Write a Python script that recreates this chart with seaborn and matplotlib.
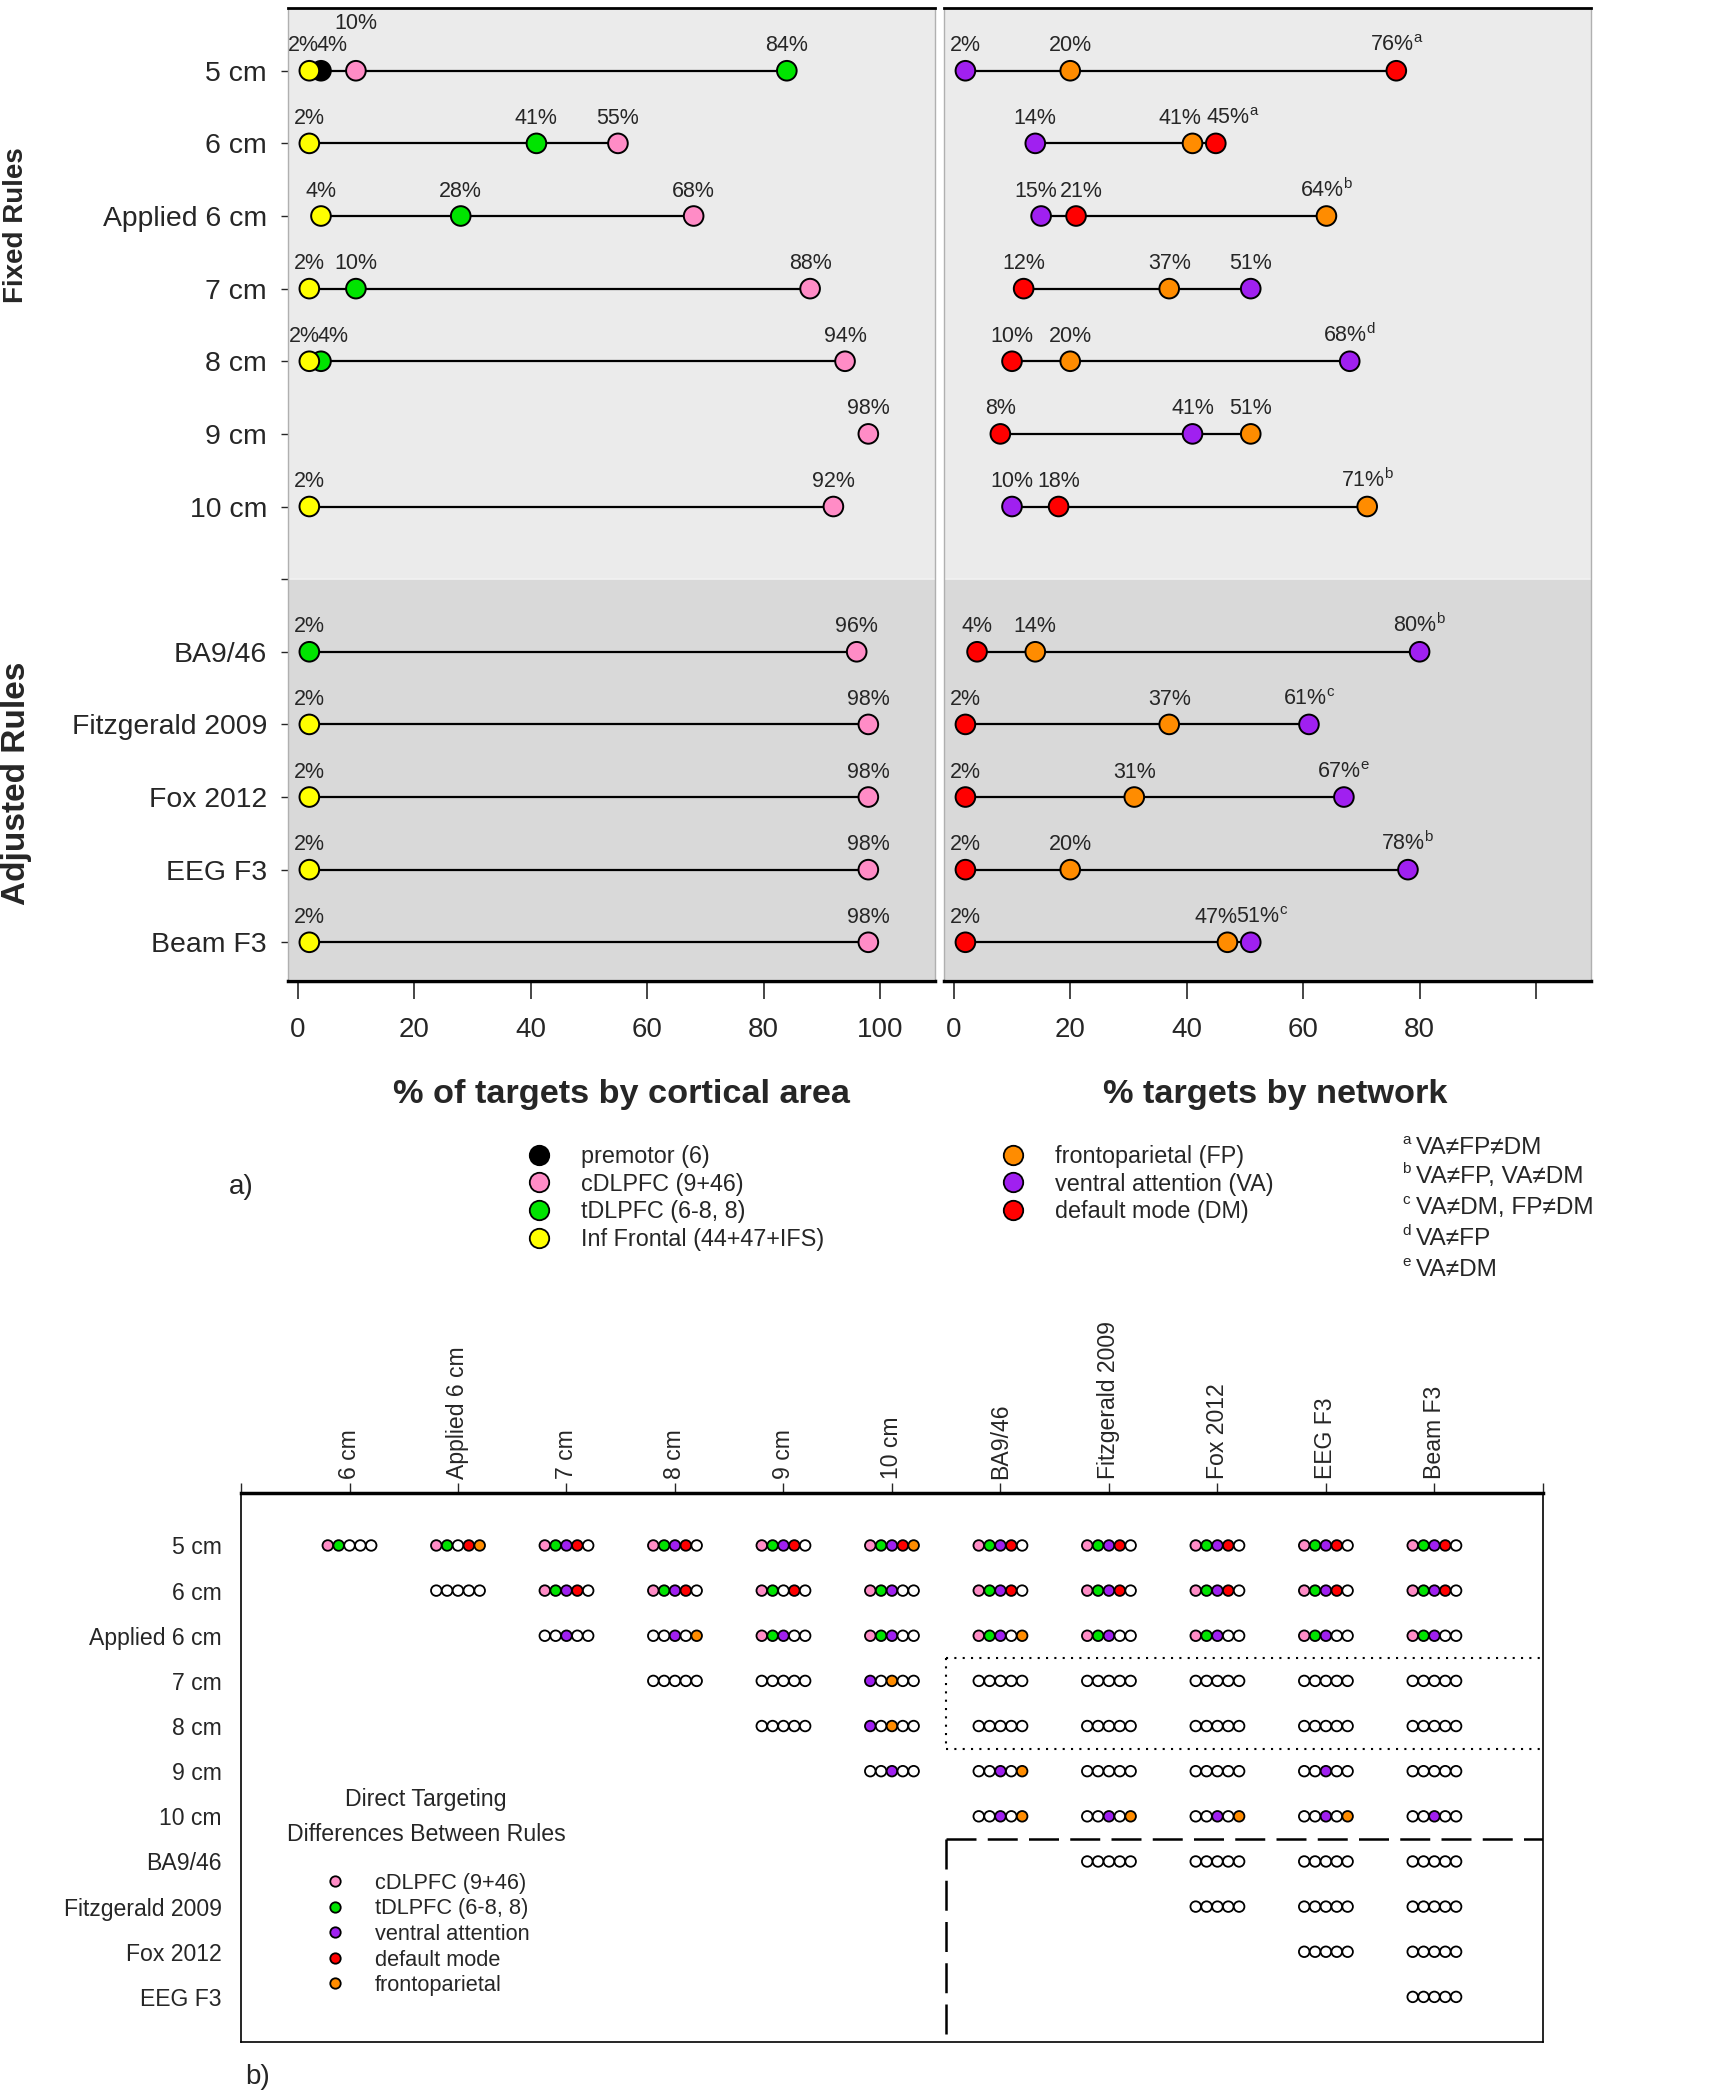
import numpy as np
import pandas as pd
import matplotlib
matplotlib.use("Agg")
import matplotlib.pyplot as plt
from matplotlib.lines import Line2D
import seaborn as sns

sns.set_style("white")
plt.rcParams["font.family"] = ["Liberation Sans", "DejaVu Sans"]
plt.rcParams["mathtext.fontset"] = "custom"
plt.rcParams["mathtext.rm"] = "Liberation Sans"
plt.rcParams["mathtext.it"] = "Liberation Sans"

nan = np.nan

# targeting rules (rows of panel a, rows/columns of panel b)
rules = ["5 cm", "6 cm", "Applied 6 cm", "7 cm", "8 cm", "9 cm", "10 cm",
         "BA9/46", "Fitzgerald 2009", "Fox 2012", "EEG F3", "Beam F3"]
n_fixed = 7

# % of targets by cortical area
premotor = [4, nan, nan, nan, nan, nan, nan, nan, nan, nan, nan, nan]
cdlpfc = [10, 55, 68, 88, 94, 98, 92, 96, 98, 98, 98, 98]
tdlpfc = [84, 41, 28, 10, 4, nan, nan, 2, nan, nan, nan, nan]
inf_frontal = [2, 2, 4, 2, 2, nan, 2, nan, 2, 2, 2, 2]

# % targets by network
frontoparietal = [20, 41, 64, 37, 20, 51, 71, 14, 37, 31, 20, 47]
ventral_attention = [2, 14, 15, 51, 68, 41, 10, 80, 61, 67, 78, 51]
default_mode = [76, 45, 21, 12, 10, 8, 18, 4, 2, 2, 2, 2]
network_sig = ["a", "a", "b", "", "d", "", "b", "b", "c", "e", "b", "c"]

footnote_keys = ["a", "b", "c", "d", "e"]
footnote_text = ["VA≠FP≠DM", "VA≠FP, VA≠DM", "VA≠DM, FP≠DM", "VA≠FP", "VA≠DM"]

# panel b: pairwise differences, one list per row rule (columns = later rules)
# slots: cDLPFC, tDLPFC, ventral attention, default mode, frontoparietal; '.' = same
diff_5cm = ["pg...", "pg.ro", "pgvr.", "pgvr.", "pgvr.", "pgvro", "pgvr.", "pgvr.", "pgvr.", "pgvr.", "pgvr."]
diff_6cm = [".....", "pgvr.", "pgvr.", "pg.r.", "pgv..", "pgvr.", "pgvr.", "pgvr.", "pgvr.", "pgvr."]
diff_applied = ["..v..", "..v.o", "pgv..", "pgv..", "pgv.o", "pgv..", "pgv..", "pgv..", "pgv.."]
diff_7cm = [".....", ".....", "v.o..", ".....", ".....", ".....", ".....", "....."]
diff_8cm = [".....", "v.o..", ".....", ".....", ".....", ".....", "....."]
diff_9cm = ["..v..", "..v.o", ".....", ".....", "..v..", "....."]
diff_10cm = ["..v.o", "..v.o", "..v.o", "..v.o", "..v.."]
diff_ba946 = [".....", ".....", ".....", "....."]
diff_fitz = [".....", ".....", "....."]
diff_fox = [".....", "....."]
diff_eeg = ["....."]
diff_rows = [diff_5cm, diff_6cm, diff_applied, diff_7cm, diff_8cm, diff_9cm,
             diff_10cm, diff_ba946, diff_fitz, diff_fox, diff_eeg]

PINK, GREEN, YELLOW = "#FF8CC6", "#00E400", "#FFFF00"
ORANGE, PURPLE, RED = "#FF8C00", "#A020F0", "#FF0000"

area_colors = {"premotor (6)": "black", "cDLPFC (9+46)": PINK,
               "tDLPFC (6-8, 8)": GREEN, "Inf Frontal (44+47+IFS)": YELLOW}
net_colors = {"frontoparietal (FP)": ORANGE, "ventral attention (VA)": PURPLE,
              "default mode (DM)": RED}
slot_colors = {"p": PINK, "g": GREEN, "v": PURPLE, "r": RED, "o": ORANGE, ".": "white"}
pair_legend = {"cDLPFC (9+46)": PINK, "tDLPFC (6-8, 8)": GREEN,
               "ventral attention": PURPLE, "default mode": RED, "frontoparietal": ORANGE}

# label nudges in points (dx, extra dy) where labels would collide
area_nudge = {("5 cm", 2): (-4.5, 0), ("5 cm", 4): (8, 0), ("5 cm", 10): (0, 16),
              ("8 cm", 2): (-3.6, 0), ("8 cm", 4): (9, 0)}
net_nudge = {("6 cm", 41): (-9, 0), ("6 cm", 45): (12, 0),
             ("Applied 6 cm", 15): (-4, 0), ("Applied 6 cm", 21): (4, 0),
             ("Beam F3", 47): (-8.5, 0), ("Beam F3", 51): (8.5, 0)}

ypos = [i if i < n_fixed else i + 1 for i in range(len(rules))]

fig = plt.figure(figsize=(17.13, 21.0), dpi=100)
ax_area = fig.add_axes([0.168, 0.534, 0.378, 0.4624])
ax_net = fig.add_axes([0.551, 0.534, 0.378, 0.4624])
ax_pair = fig.add_axes([0.1407, 0.0276, 0.760, 0.2614])


def dumbbell(ax, series, colors, sups, nudges):
    rows = []
    for name, vals in series.items():
        for i, v in enumerate(vals):
            if not np.isnan(v):
                rows.append({"rule": rules[i], "y": ypos[i], "value": float(v), "group": name})
    df = pd.DataFrame(rows)
    span = df.groupby("y")["value"].agg(["min", "max"])
    ax.hlines(span.index, span["min"], span["max"], color="black", lw=1.6, zorder=2)
    sns.scatterplot(data=df, x="value", y="y", hue="group", palette=colors, s=200,
                    edgecolor="black", linewidth=1.4, legend=False, zorder=3, ax=ax)
    for _, r in df.iterrows():
        i = rules.index(r["rule"])
        txt = f"{r['value']:.0f}%"
        if sups is not None and sups[i] and r["value"] == span.loc[r["y"], "max"]:
            txt += "$^{\\mathrm{" + sups[i] + "}}$"
        dx, dy = nudges.get((r["rule"], int(r["value"])), (0, 0))
        ax.annotate(txt, (r["value"], r["y"]), xytext=(dx, 14 + dy),
                    textcoords="offset points", ha="center", va="baseline",
                    fontsize=15.5, zorder=4)


dumbbell(ax_area, {"premotor (6)": premotor, "cDLPFC (9+46)": cdlpfc,
                   "tDLPFC (6-8, 8)": tdlpfc, "Inf Frontal (44+47+IFS)": inf_frontal},
         area_colors, None, area_nudge)
dumbbell(ax_net, {"frontoparietal (FP)": frontoparietal,
                  "ventral attention (VA)": ventral_attention,
                  "default mode (DM)": default_mode},
         net_colors, network_sig, net_nudge)

for ax in (ax_area, ax_net):
    ax.axhspan(-0.87, n_fixed, color="#EBEBEB", zorder=0)
    ax.axhspan(n_fixed, 12.5, color="#D9D9D9", zorder=0)
    ax.axhline(n_fixed, color="#F2F2F2", lw=1.2, zorder=1)
    ax.set_xlim(-1.7, 109.5)
    ax.set_ylim(12.5, -0.87)
    ax.set_xticks([0, 20, 40, 60, 80, 100])
    ax.tick_params(axis="x", bottom=True, direction="out", length=13, width=1.2,
                   pad=13, labelsize=20)
    ax.set_xlabel("")
    ax.set_ylabel("")
    for s in ("left", "right"):
        ax.spines[s].set_color("#B0B0B0")
        ax.spines[s].set_linewidth(1)
    ax.spines["top"].set_color("black")
    ax.spines["top"].set_linewidth(2)
    ax.spines["bottom"].set_color("black")
    ax.spines["bottom"].set_linewidth(2.5)
    ax.spines["bottom"].set_position(("outward", 2))

ax_net.set_xticklabels(["0", "20", "40", "60", "80", ""])
ax_net.tick_params(axis="y", left=False, labelleft=False)
ax_area.set_yticks(range(len(rules) + 1))
ax_area.set_yticklabels(rules[:n_fixed] + [""] + rules[n_fixed:])
ax_area.tick_params(axis="y", left=True, direction="out", length=5, width=1,
                    pad=10, labelsize=20.4)

fig.text(0.3627, 0.479, "% of targets by cortical area", ha="center", va="center",
         fontsize=24.7, fontweight="bold")
fig.text(0.7443, 0.479, "% targets by network", ha="center", va="center",
         fontsize=24.7, fontweight="bold")
fig.text(0.0094, 0.893, "Fixed Rules", rotation=90, ha="center", va="center",
         fontsize=20, fontweight="bold")
fig.text(0.0094, 0.627, "Adjusted Rules", rotation=90, ha="center", va="center",
         fontsize=24, fontweight="bold")
fig.text(0.1407, 0.4348, "a)", ha="center", va="center", fontsize=20)
fig.text(0.1506, 0.011, "b)", ha="center", va="center", fontsize=20)


def dot_handles(colors, ms):
    return [Line2D([], [], marker="o", ls="", markerfacecolor=c, markeredgecolor="black",
                   markeredgewidth=1.3, markersize=ms) for c in colors.values()]


leg_kw = dict(frameon=False, borderpad=0, borderaxespad=0, handlelength=1,
              labelspacing=0.2, handletextpad=1.3, loc="upper left")
fig.legend(dot_handles(area_colors, 14), list(area_colors), fontsize=16.8,
           bbox_to_anchor=(0.3077, 0.4548), **leg_kw)
fig.legend(dot_handles(net_colors, 14), list(net_colors), fontsize=16.8,
           bbox_to_anchor=(0.5845, 0.4548), **leg_kw)

foot_y = [0.4533, 0.4395, 0.4248, 0.410, 0.3952]
for k, t, y in zip(footnote_keys, footnote_text, foot_y):
    fig.text(0.8186, y + 0.004, k, ha="left", va="center", fontsize=11)
    fig.text(0.8266, y, t, ha="left", va="center", fontsize=17.6)

# ---- panel b ----
cells = []
for i, row in enumerate(diff_rows):
    for j, cell in enumerate(row):
        for k, code in enumerate(cell):
            cells.append({"x": i + 1 + j + (k - 2) * 0.1, "y": i, "code": code})
cells = pd.DataFrame(cells)
sns.scatterplot(data=cells, x="x", y="y", hue="code", palette=slot_colors, s=58,
                edgecolor="black", linewidth=1.3, legend=False, zorder=3, ax=ax_pair)

split_x = rules.index("BA9/46") - 0.5
split_y = rules.index("10 cm") + 0.5
r7, r8 = rules.index("7 cm"), rules.index("8 cm")
ax_pair.plot([split_x, len(rules)], [r7 - 0.5, r7 - 0.5], color="black", lw=1.5, ls=(0, (1, 3)))
ax_pair.plot([split_x, len(rules)], [r8 + 0.5, r8 + 0.5], color="black", lw=1.5, ls=(0, (1, 3)))
ax_pair.plot([split_x, split_x], [r7 - 0.5, r8 + 0.5], color="black", lw=1.5, ls=(0, (1, 3)))
ax_pair.plot([split_x, len(rules)], [split_y, split_y], color="black", lw=1.8,
             ls=(0, (12, 4.5)))
ax_pair.plot([split_x, split_x], [split_y, len(rules) - 1], color="black", lw=1.8,
             ls=(0, (12, 4.5)))

ax_pair.set_xlim(0, len(rules))
ax_pair.set_ylim(len(rules) - 1, -1.16)
ax_pair.set_xticks(range(len(rules) + 1))
ax_pair.set_xticklabels([""] + rules[1:] + [""], rotation=90)
ax_pair.xaxis.tick_top()
ax_pair.tick_params(axis="x", top=True, bottom=False, labeltop=True, labelbottom=False,
                    direction="out", length=7, width=1, pad=3, labelsize=16.6)
ax_pair.set_yticks(range(len(rules) - 1))
ax_pair.set_yticklabels(rules[:-1])
ax_pair.tick_params(axis="y", left=False, length=0, pad=14, labelsize=16.6)
ax_pair.set_xlabel("")
ax_pair.set_ylabel("")
for s in ax_pair.spines.values():
    s.set_color("black")
    s.set_linewidth(1.2)
ax_pair.spines["top"].set_linewidth(2.5)

fig.text(0.2487, 0.1433, "Direct Targeting", ha="center", va="center", fontsize=16.7)
fig.text(0.2487, 0.1262, "Differences Between Rules", ha="center", va="center", fontsize=16.7)
fig.legend(dot_handles(pair_legend, 7.5), list(pair_legend), fontsize=15.7,
           frameon=False, borderpad=0, borderaxespad=0, handlelength=1,
           labelspacing=0.21, handletextpad=1.36, loc="upper left",
           bbox_to_anchor=(0.189, 0.1082))

fig.savefig("out.png", dpi=100)
